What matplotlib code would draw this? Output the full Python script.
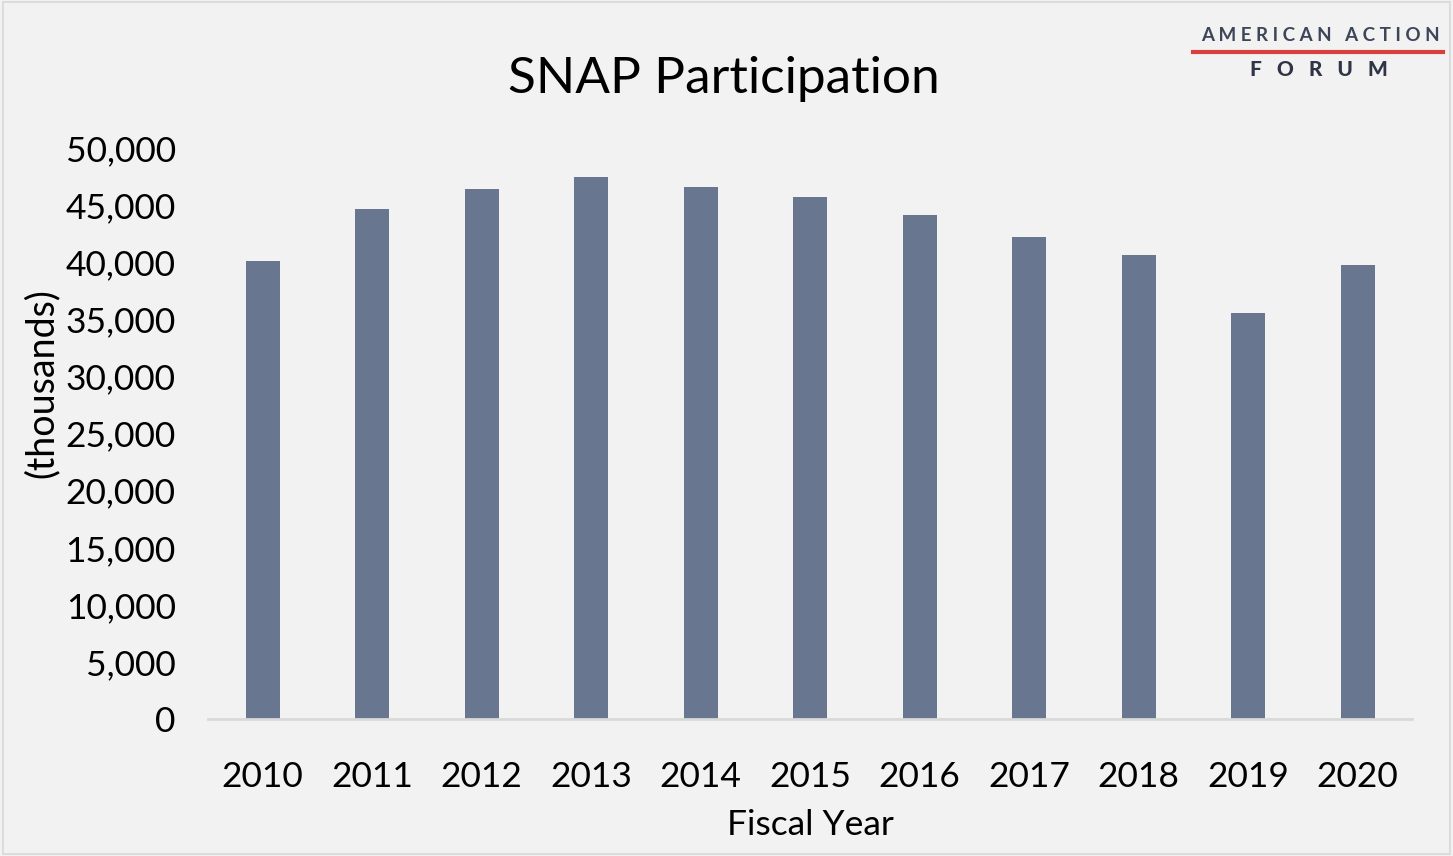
import matplotlib.pyplot as plt
from matplotlib.ticker import FuncFormatter

plt.rcParams['font.family'] = ['Lato', 'DejaVu Sans']

years = ['2010', '2011', '2012', '2013', '2014', '2015', '2016', '2017', '2018', '2019', '2020']
participants = [40150, 44660, 46420, 47460, 46580, 45720, 44120, 42200, 40620, 35560, 39760]

bg = '#f2f2f2'
bar_color = '#68768f'

fig = plt.figure(figsize=(14.53, 8.56), dpi=100, facecolor=bg)
ax = fig.add_axes([0.143, 0.160, 0.829, 0.667], facecolor=bg)

ax.bar(range(len(years)), participants, width=0.31, color=bar_color, zorder=2)
ax.set_xlim(-0.5, len(years) - 0.5)
ax.set_ylim(0, 50000)
ax.set_yticks(range(0, 50001, 5000))
ax.yaxis.set_major_formatter(FuncFormatter(lambda v, p: f'{int(v):,}'))
ax.set_xticks(range(len(years)))
ax.set_xticklabels(years)

for s in ['top', 'right', 'left']:
    ax.spines[s].set_visible(False)
ax.spines['bottom'].set_color('#d9d9d9')
ax.spines['bottom'].set_linewidth(2)
ax.tick_params(axis='both', length=0, labelsize=25.5, colors='black')
ax.tick_params(axis='x', pad=30)
ax.tick_params(axis='y', pad=23)

ax.set_xlabel('Fiscal Year', fontsize=25.5, labelpad=12)
fig.text(0.029, 0.553, '(thousands)', rotation=90, ha='center', va='center', fontsize=27)
fig.text(0.498, 0.908, 'SNAP Participation', ha='center', va='center', fontsize=37)

# logo
fig.text(0.9085, 0.958, 'A M E R I C A N   A C T I O N', ha='center', va='center',
         fontsize=13.5, color='#3d4559', fontweight='bold')
fig.add_artist(plt.Line2D([0.821, 0.993], [0.939, 0.939], color='#d7403d', lw=3))
fig.text(0.908, 0.919, 'F   O   R   U   M', ha='center', va='center',
         fontsize=15, color='#2f3547', fontweight='black')

# thin frame
fig.add_artist(plt.Rectangle((0.002, 0.002), 0.996, 0.996, fill=False,
                             edgecolor='#dcdcdc', lw=1.5, transform=fig.transFigure))

fig.savefig('out.png', dpi=100, facecolor=bg)
